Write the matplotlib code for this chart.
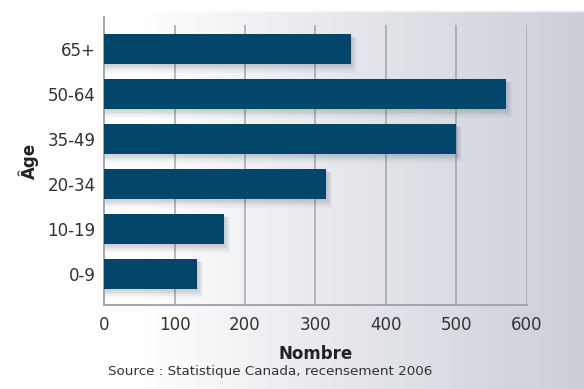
import numpy as np
import matplotlib
matplotlib.use("Agg")
import matplotlib.pyplot as plt
from matplotlib.colors import LinearSegmentedColormap

# Population by age group
ages = ["0-9", "10-19", "20-34", "35-49", "50-64", "65+"]
counts = [132, 170, 315, 500, 570, 350]
ticks = [0, 100, 200, 300, 400, 500, 600]

bar_color = "#02476b"
grid_color = "#a3a5ae"
text_color = "#333333"

fig = plt.figure(figsize=(5.84, 3.89), dpi=100)

# soft white-to-grey backdrop
bg = fig.add_axes([0, 0, 1, 1], zorder=-10)
bg.axis("off")
x = np.linspace(0, 1, 400)
grad = np.clip((x - 0.25) / 0.75, 0, 1) ** 0.9
img = np.tile(grad, (100, 1))
img[:3, :] = 0  # thin white strip at the top
cmap = LinearSegmentedColormap.from_list("bg", ["#ffffff", "#cbcfd8"])
bg.imshow(img, cmap=cmap, aspect="auto", extent=[0, 1, 0, 1], vmin=0, vmax=1)
bg.set_xlim(0, 1)
bg.set_ylim(0, 1)

ax = fig.add_axes([104 / 584, 1 - 305 / 389, 423 / 584, 288 / 389])
ax.patch.set_alpha(0)

y = np.arange(len(ages))
ylo, yhi = -0.69, 5.71

# drop shadow under each bar
for i, a in enumerate([0.05, 0.05, 0.05, 0.04, 0.03]):
    dx = 2 + i * 1.6
    dy = 0.04 + i * 0.025
    ax.barh(y - dy, [c + dx for c in counts], height=0.67 + i * 0.03,
            color="#2a3040", alpha=a, zorder=1, linewidth=0)

ax.barh(y, counts, height=0.67, color=bar_color, zorder=3, linewidth=0)

# vertical grid
ax.vlines(ticks[1:], ylo, 5.53, color=grid_color, linewidth=1.1, zorder=0)

ax.set_xlim(0, 600)
ax.set_ylim(ylo, yhi)
ax.set_xticks(ticks)
ax.set_xticklabels([str(t) for t in ticks])
ax.set_yticks(y)
ax.set_yticklabels(ages)
ax.tick_params(length=0, labelsize=12, colors=text_color, pad=8)
ax.tick_params(axis="y", pad=6)

for s in ["top", "right"]:
    ax.spines[s].set_visible(False)
for s in ["left", "bottom"]:
    ax.spines[s].set_color(grid_color)
    ax.spines[s].set_linewidth(1.4)

ax.set_xlabel("Nombre", fontsize=12, fontweight="bold", color="#222222", labelpad=8)
ax.set_ylabel("Âge", fontsize=12, fontweight="bold", color="#222222", labelpad=6)

fig.text(108 / 584, 1 - 371 / 389, "Source : Statistique Canada, recensement 2006",
         fontsize=9.7, color=text_color, va="center")

fig.savefig("out.png", dpi=100)
